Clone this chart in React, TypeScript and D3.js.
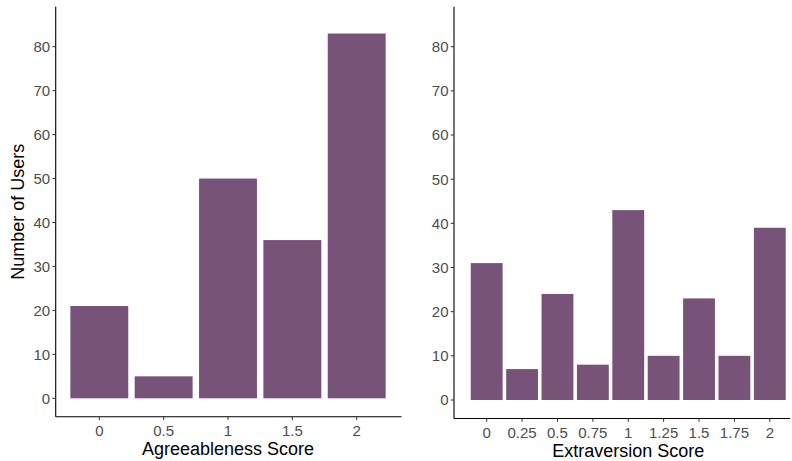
import React from 'react';
import * as d3 from 'd3';

const agreeScores = [0, 0.5, 1, 1.5, 2];
const agreeCounts = [21, 5, 50, 36, 83];
const extraScores = [0, 0.25, 0.5, 0.75, 1, 1.25, 1.5, 1.75, 2];
const extraCounts = [31, 7, 24, 8, 43, 10, 23, 10, 39];
const yTicks = [0, 10, 20, 30, 40, 50, 60, 70, 80];

const W = 792;
const H = 461;
const BAR_COLOR = '#785379';
const FONT = '"Liberation Sans", Arial, sans-serif';

interface PanelProps {
  scores: number[];
  counts: number[];
  step: number;
  left: number; // y axis x position
  x0: number; // pixel of score 0
  x2: number; // pixel of score 2
  right: number; // end of x axis line
  yZero: number;
  y80: number;
  title: string;
}

const Panel: React.FC<PanelProps> = ({ scores, counts, step, left, x0, x2, right, yZero, y80, title }) => {
  const x = d3.scaleLinear().domain([0, 2]).range([x0, x2]);
  const y = d3.scaleLinear().domain([0, 80]).range([yZero, y80]);
  const axisTop = 6.7;
  const axisBottom = y(-4.2);
  const bw = x(step * 0.9) - x(0);
  return (
    <g fontFamily={FONT}>
      {scores.map((s, i) => (
        <rect key={s} x={x(s) - bw / 2} y={y(counts[i])} width={bw} height={y(0) - y(counts[i])}
          fill={BAR_COLOR} />
      ))}
      <line x1={left} x2={left} y1={axisTop} y2={axisBottom} stroke="#000" strokeWidth={1.1} />
      <line x1={left} x2={right} y1={axisBottom} y2={axisBottom} stroke="#000" strokeWidth={1.1} />
      {yTicks.map(t => (
        <g key={t}>
          <line x1={left - 3.3} x2={left} y1={y(t)} y2={y(t)} stroke="#333" strokeWidth={1} />
          <text x={left - 5.5} y={y(t)} dy="0.36em" textAnchor="end" fontSize={15} fill="#4d4d4d">{t}</text>
        </g>
      ))}
      {scores.map(s => (
        <g key={s}>
          <line x1={x(s)} x2={x(s)} y1={axisBottom} y2={axisBottom + 3.3} stroke="#333" strokeWidth={1} />
          <text x={x(s)} y={axisBottom + 19} textAnchor="middle" fontSize={15} fill="#4d4d4d">{String(s)}</text>
        </g>
      ))}
      <text x={(x(0) + x(2)) / 2} y={axisBottom + 38} textAnchor="middle" fontSize={18} fill="#000">{title}</text>
    </g>
  );
};

export default function App() {
  return (
    <svg width={W} height={H} style={{ display: 'block', position: 'absolute', left: 0, top: 0, background: '#fff' }}>
      <text transform={`translate(24,${(6.7 + 416.7) / 2}) rotate(-90)`} textAnchor="middle"
        fontFamily={FONT} fontSize={18} fill="#000">Number of Users</text>
      <Panel scores={agreeScores} counts={agreeCounts} step={0.5} left={55.7} x0={99.3} x2={356.7}
        right={401.5} yZero={398.3} y80={46.7} title="Agreeableness Score" />
      <Panel scores={extraScores} counts={extraCounts} step={0.25} left={454} x0={486.7} x2={769.8}
        right={790} yZero={400} y80={46.7} title="Extraversion Score" />
    </svg>
  );
}
